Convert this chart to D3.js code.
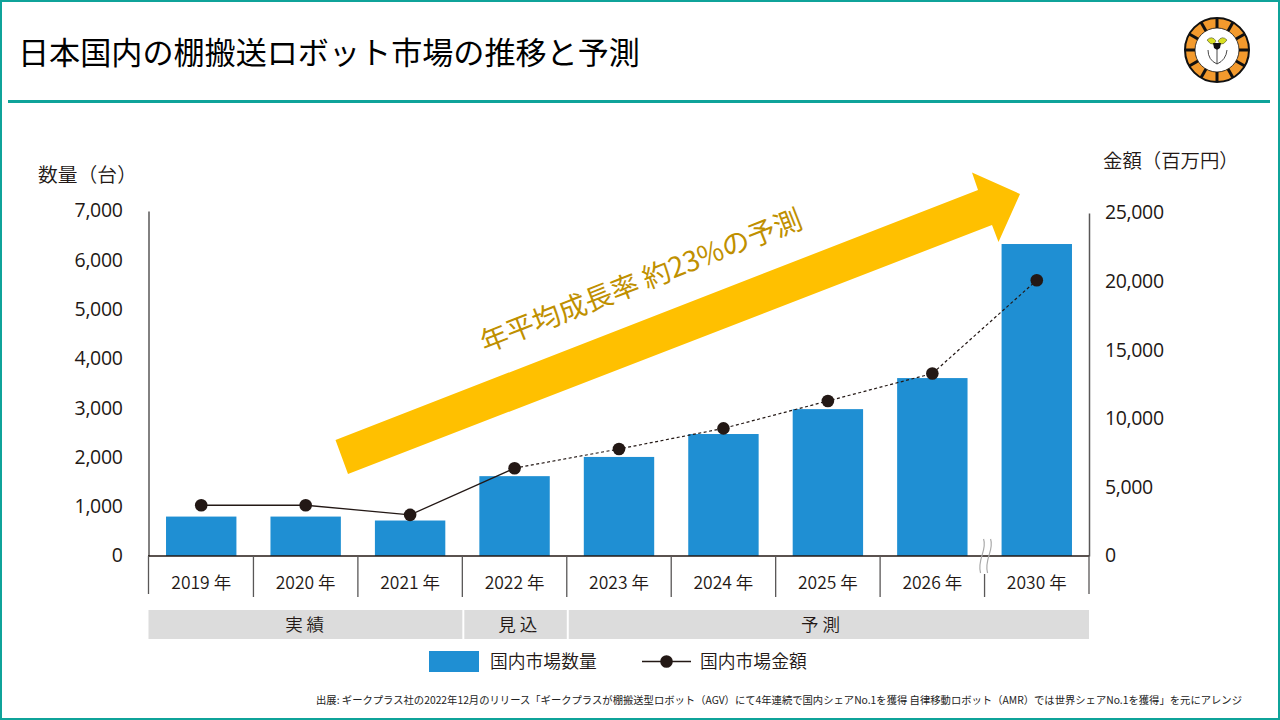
<!DOCTYPE html>
<html><head><meta charset="utf-8">
<style>html,body{margin:0;padding:0;background:#fff}svg{display:block}
text{font-family:"Noto Sans CJK JP","Noto Sans",sans-serif;font-weight:400}</style>
<script src="https://cdnjs.cloudflare.com/ajax/libs/d3/7.8.5/d3.min.js"></script></head>
<body><svg id="c" width="1280" height="720"></svg>
<script>
const categories=["2019 年","2020 年","2021 年","2022 年","2023 年","2024 年","2025 年","2026 年","2030 年"];
const quantity=[800,800,720,1620,2010,2475,2980,3610,6330];
const amount=[3700,3700,3000,6400,7800,9300,11300,13300,20100];
const leftTicks=[0,1000,2000,3000,4000,5000,6000,7000];
const rightTicks=[0,5000,10000,15000,20000,25000];
const phases=[{label:"実 績",from:0,to:3,at:1.49},{label:"見 込",from:3,to:4,at:3.53},{label:"予 測",from:4,to:9,at:6.43}];
const titleText="日本国内の棚搬送ロボット市場の推移と予測";
const sourceText="出展: ギークプラス社の2022年12月のリリース「ギークプラスが棚搬送型ロボット（AGV）にて4年連続で国内シェアNo.1を獲得  自律移動ロボット（AMR）では世界シェアNo.1を獲得」を元にアレンジ";

const svg=d3.select("#c");
const teal="#0fa39a",ink="#231815",axisC="#595757",blue="#1f8fd3",gold="#ffc000";
svg.append("rect").attr("x",1).attr("y",1).attr("width",1278).attr("height",718).attr("fill","#fff").attr("stroke",teal).attr("stroke-width",2);
svg.append("text").attr("x",18).attr("y",63.5).attr("font-size",31.1).attr("fill","#000").text(titleText);
svg.append("rect").attr("x",8).attr("y",100).attr("width",1262).attr("height",3).attr("fill",teal);

// logo
const logo=svg.append("g").attr("transform","translate(1217,50)");
logo.append("circle").attr("r",32).attr("fill","#f39a2d").attr("stroke","#111").attr("stroke-width",2);
logo.append("circle").attr("r",22).attr("fill","#fff").attr("stroke","#111").attr("stroke-width",.8);
d3.range(12).forEach(i=>{const a=i*Math.PI/6;
 logo.append("line").attr("x1",22*Math.cos(a)).attr("y1",22*Math.sin(a)).attr("x2",32*Math.cos(a)).attr("y2",32*Math.sin(a)).attr("stroke","#111").attr("stroke-width",3);});
logo.append("path").attr("d","M-10,-10 Q-5,-15 -1,-9 L-3,-6 Q-7,-5 -10,-10Z M10,-10 Q5,-15 1,-9 L3,-6 Q7,-5 10,-10Z").attr("fill","#d9e021").attr("stroke","#333").attr("stroke-width",.5);
logo.append("path").attr("d","M-4,-7 L4,-7 L3,-2 L0,0 L-3,-2Z").attr("fill","#111");
logo.append("path").attr("d","M0,0 V14 M-9,0 Q-9,10 0,14 Q9,10 10,0").attr("fill","none").attr("stroke","#333").attr("stroke-width",.9);

const x=d3.scaleBand().domain(categories).range([149,1089]).paddingInner(.326).paddingOuter(.163);
const yL=d3.scaleLinear().domain([0,7000]).range([556,211]);
const yR=d3.scaleLinear().domain([0,25000]).range([556,213]);
const cx=d=>x(d)+x.bandwidth()/2;
const edge=i=>x.range()[0]+i*x.step();

// arrow (behind bars)
svg.append("polygon").attr("points","335.5,440 978,190 972,172.5 1020,194 998.5,242 992,225 348,474").attr("fill",gold);
svg.append("text").attr("transform","translate(485,353) rotate(-21.5)").attr("font-size",28).attr("fill","#bf9000").text("年平均成長率 約23%の予測");

// bars
svg.selectAll(".bar").data(quantity).join("rect").attr("class","bar")
 .attr("x",(d,i)=>x(categories[i])).attr("width",x.bandwidth())
 .attr("y",d=>yL(d)).attr("height",d=>yL(0)-yL(d)).attr("fill",blue);

// axes
const fmt=d3.format(",");
const gL=svg.append("g").attr("transform","translate(148.5,0)").call(d3.axisLeft(yL).tickValues(leftTicks).tickFormat(fmt).tickSize(0).tickPadding(26));
const gR=svg.append("g").attr("transform","translate(1089,0)").call(d3.axisRight(yR).tickValues(rightTicks).tickFormat(fmt).tickSize(0).tickPadding(16));
[gL,gR].forEach(g=>{g.select(".domain").attr("stroke",axisC).attr("stroke-width",1.5);
 g.selectAll("text").attr("font-size",19.5).attr("fill",ink).style("font-family","'Open Sans','Noto Sans',sans-serif").style("font-weight",400).style("letter-spacing","-0.35px").attr("dy",".3em");});
svg.append("line").attr("x1",148).attr("x2",1089).attr("y1",556).attr("y2",556).attr("stroke",ink).attr("stroke-width",1.3);
svg.append("line").attr("x1",148.5).attr("x2",148.5).attr("y1",556).attr("y2",594).attr("stroke",axisC).attr("stroke-width",1.3);
svg.append("line").attr("x1",1089).attr("x2",1089).attr("y1",556).attr("y2",594).attr("stroke",axisC).attr("stroke-width",1.3);
d3.range(1,9).forEach(i=>{
 svg.append("line").attr("x1",edge(i)).attr("x2",edge(i)).attr("y1",i==8?574:556).attr("y2",597).attr("stroke",axisC).attr("stroke-width",1.3);
});
// break mark
const bx=edge(8);
[-3,4].forEach(dx=>svg.append("path").attr("d",`M${bx+dx+2},539 C${bx+dx+6},550 ${bx+dx-5},560 ${bx+dx-1},573`).attr("fill","none").attr("stroke","#aaa").attr("stroke-width",1.2));

svg.selectAll(".cat").data(categories).join("text").attr("class","cat").attr("x",d=>cx(d)).attr("y",589)
 .attr("text-anchor","middle").attr("font-size",17.5).attr("fill",ink).style("font-weight",350).text(d=>d);

svg.append("text").attr("x",38).attr("y",182).attr("font-size",19.8).attr("fill",ink).style("font-weight",350).text("数量（台）");
svg.append("text").attr("x",1103).attr("y",168).attr("font-size",19.4).attr("fill",ink).style("font-weight",350).text("金額（百万円）");

// line
const line=d3.line().x(d=>d[0]).y(d=>d[1]);
const pts=amount.map((v,i)=>[cx(categories[i]),yR(v)]);
svg.append("path").attr("d",line(pts.slice(0,4))).attr("fill","none").attr("stroke",ink).attr("stroke-width",1.3);
svg.append("path").attr("d",line(pts.slice(3))).attr("fill","none").attr("stroke",ink).attr("stroke-width",1.2).attr("stroke-dasharray","3 2.5");
svg.selectAll(".pt").data(pts).join("circle").attr("class","pt").attr("cx",d=>d[0]).attr("cy",d=>d[1]).attr("r",6.3).attr("fill",ink);

// phases
svg.selectAll(".ph").data(phases).join("rect").attr("class","ph")
 .attr("x",d=>edge(d.from)+(d.from?2:-0.5)).attr("width",d=>edge(d.to)-edge(d.from)-(d.from?2:-0.5))
 .attr("y",610).attr("height",29).attr("fill","#dcdcdc");
svg.selectAll(".pht").data(phases).join("text").attr("class","pht").attr("x",d=>edge(d.at)).attr("y",631)
 .attr("text-anchor","middle").attr("font-size",17.5).attr("fill",ink).style("font-weight",350).text(d=>d.label);

// legend
svg.append("rect").attr("x",429).attr("y",651).attr("width",50).attr("height",21).attr("fill",blue);
svg.append("text").attr("x",490).attr("y",668).attr("font-size",17.8).attr("fill",ink).style("font-weight",350).text("国内市場数量");
svg.append("line").attr("x1",642).attr("x2",691).attr("y1",661.5).attr("y2",661.5).attr("stroke",ink).attr("stroke-width",1.3);
svg.append("circle").attr("cx",666.5).attr("cy",661.5).attr("r",6.3).attr("fill",ink);
svg.append("text").attr("x",700).attr("y",668).attr("font-size",17.8).attr("fill",ink).style("font-weight",350).text("国内市場金額");

svg.append("text").attr("x",1242).attr("y",704).attr("text-anchor","end").attr("font-size",10.5).attr("fill","#222").attr("textLength",926).attr("lengthAdjust","spacingAndGlyphs").text(sourceText);
</script></body></html>
